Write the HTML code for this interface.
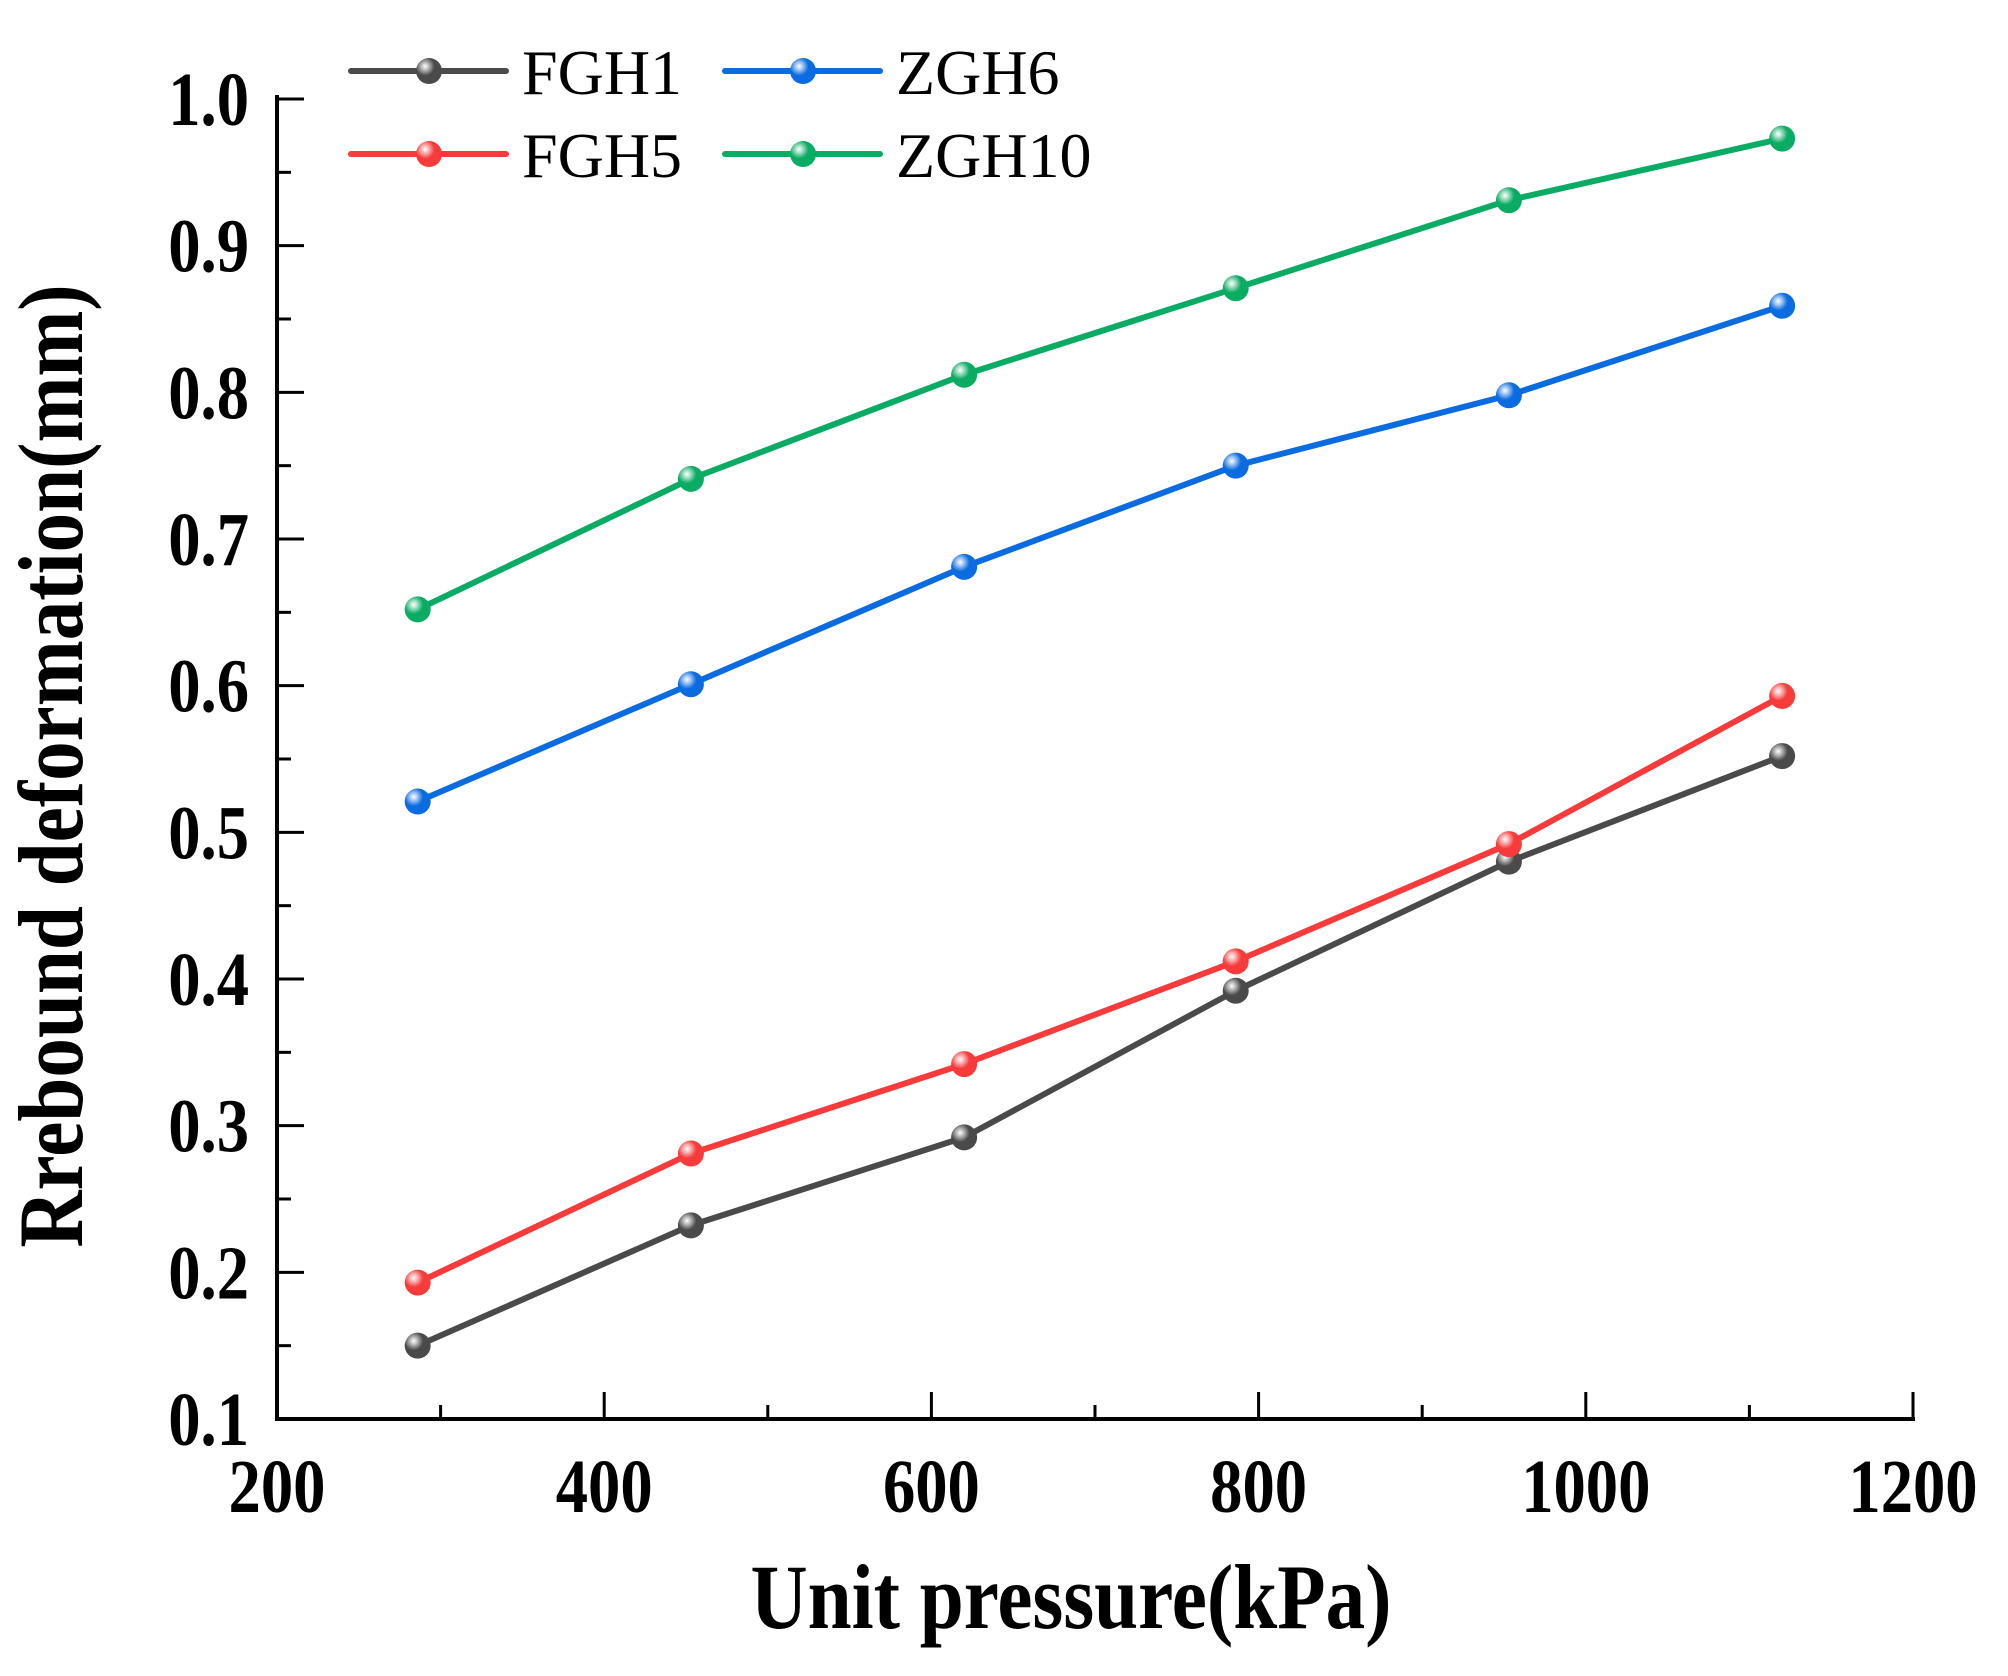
<!DOCTYPE html>
<html><head><meta charset="utf-8"><style>
html,body{margin:0;padding:0;background:#fff;}
svg{display:block;}
</style></head><body>
<svg id="chart" width="2008" height="1676" viewBox="0 0 2008 1676" xmlns="http://www.w3.org/2000/svg">
<defs>
<radialGradient id="shine" cx="0.35" cy="0.32" r="0.6">
<stop offset="0" stop-color="#fff" stop-opacity="1"/>
<stop offset="0.25" stop-color="#fff" stop-opacity="0.6"/>
<stop offset="0.6" stop-color="#fff" stop-opacity="0"/>
</radialGradient>
</defs>
<g id="plot"></g>
</svg>
<script>
const xValues = [286, 453, 620, 786, 953, 1120];
const seriesNames = ['FGH1', 'FGH5', 'ZGH6', 'ZGH10'];
const fgh1 = [0.150, 0.232, 0.292, 0.392, 0.480, 0.552];
const fgh5 = [0.193, 0.281, 0.342, 0.412, 0.492, 0.593];
const zgh6 = [0.521, 0.601, 0.681, 0.750, 0.798, 0.859];
const zgh10 = [0.652, 0.741, 0.812, 0.871, 0.931, 0.973];
const xTicks = [200, 400, 600, 800, 1000, 1200];
const yTicks = [0.1, 0.2, 0.3, 0.4, 0.5, 0.6, 0.7, 0.8, 0.9, 1.0];
const yTickLabels = ['0.1','0.2','0.3','0.4','0.5','0.6','0.7','0.8','0.9','1.0'];

const NS = 'http://www.w3.org/2000/svg';
const L = 277, R = 1913, B = 1419, T = 99;
const sx = v => L + (v - 200) / 1000 * (R - L);
const sy = v => B - (v - 0.1) / 0.9 * (B - T);
const g = document.getElementById('plot');
function mk(tag, attrs) { const e = document.createElementNS(NS, tag); for (const k in attrs) e.setAttribute(k, attrs[k]); g.appendChild(e); return e; }

let e = mk('line', {x1: L, y1: T - 4, x2: L, y2: B + 2, stroke: '#000', 'stroke-width': 4});


e = mk('line', {x1: L - 2, y1: B, x2: R + 2, y2: B, stroke: '#000', 'stroke-width': 4});



for (let v = 200; v <= 1200; v += 100) {
  const major = v % 200 === 0;
  e = mk('line', {x1: sx(v), y1: B, x2: sx(v), y2: B - (major ? 27 : 14), stroke: '#000', 'stroke-width': 3});
  
  
}
xTicks.forEach(v => {
  const t = mk('text', {x: 0, y: 0, 'font-family': '"Liberation Serif", serif', 'font-weight': 'bold', 'font-size': 76, 'text-anchor': 'middle', transform: `translate(${sx(v)},1512) scale(0.85,1)`});
  t.textContent = v;
  
  
});
for (let i = 0; i <= 18; i++) {
  const v = 0.1 + i * 0.05;
  const major = i % 2 === 0;
  e = mk('line', {x1: L, y1: sy(v), x2: L + (major ? 27 : 14), y2: sy(v), stroke: '#000', 'stroke-width': 3});
  
  
}
yTicks.forEach((v, i) => {
  const t = mk('text', {x: 0, y: 0, 'font-family': '"Liberation Serif", serif', 'font-weight': 'bold', 'font-size': 76, 'text-anchor': 'end', transform: `translate(249,${sy(v) + 26}) scale(0.85,1)`});
  t.textContent = yTickLabels[i];
  
  
});
let t = mk('text', {x: 0, y: 0, 'font-family': '"Liberation Serif", serif', 'font-weight': 'bold', 'font-size': 92, 'text-anchor': 'middle', transform: 'translate(1071,1628) scale(0.86,1)'});
t.textContent = 'Unit pressure(kPa)';


t = mk('text', {x: 0, y: 0, 'font-family': '"Liberation Serif", serif', 'font-weight': 'bold', 'font-size': 92, 'text-anchor': 'middle', transform: 'translate(82,766) rotate(-90) scale(0.86,1)'});
t.textContent = 'Rrebound deformation(mm)';



const colors = ['#4a4a4a', '#f73b3b', '#0b6be0', '#0aab62'];
const allSeries = [fgh1, fgh5, zgh6, zgh10];
function marker(cx, cy, c) {
  let m = mk('circle', {cx, cy, r: 13, fill: c});
  
  
  m = mk('circle', {cx, cy, r: 13, fill: 'url(#shine)'});
  
  
}
allSeries.forEach((s, k) => {
  const pts = s.map((v, i) => sx(xValues[i]) + ',' + sy(v)).join(' ');
  const p = mk('polyline', {points: pts, fill: 'none', stroke: colors[k], 'stroke-width': 6, 'stroke-linejoin': 'round'});
  
  
  s.forEach((v, i) => marker(sx(xValues[i]), sy(v), colors[k]));
});
const legPos = [[351, 71], [351, 154], [725, 71], [725, 154]];
seriesNames.forEach((n, k) => {
  const [x, y] = legPos[k];
  const l = mk('line', {x1: x, y1: y, x2: x + 155, y2: y, stroke: colors[k], 'stroke-width': 6, 'stroke-linecap': 'round'});
  
  
  marker(x + 78, y, colors[k]);
  const tx = mk('text', {x: x + 171, y: y + 23, 'font-family': '"Liberation Serif", serif', 'font-size': 64});
  tx.textContent = n;
  
  
});
</script>
</body></html>
